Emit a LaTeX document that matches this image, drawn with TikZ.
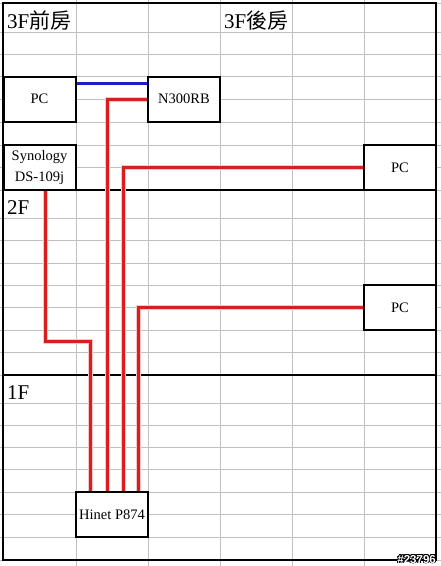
\documentclass[tikz,border=0pt]{standalone}
\usepackage{fontspec}
\setmainfont{Liberation Serif}
\newfontfamily\cjk{Noto Sans CJK TC}
\newfontfamily\markfont{Liberation Sans}
\usepackage[copies]{contour}
\contourlength{0.7pt}
\definecolor{wirered}{RGB}{218,30,30}
\definecolor{wireblue}{RGB}{30,30,200}
\definecolor{gridgray}{RGB}{192,192,192}

\begin{document}
\begin{tikzpicture}[x=1pt,y=-1pt,
    box/.style={draw,fill=white,line width=2pt,minimum width=72pt,minimum height=45pt,
      inner sep=1pt,align=center,font=\fontsize{14.5}{21}\selectfont},
    gridline/.style={draw=gridgray,line width=1pt},
    frame/.style={line width=2.6pt},
    redwire/.style={draw=wirered,line width=3pt,preaction={draw=wirered!25,line width=5pt}},
    bluewire/.style={draw=wireblue,line width=3pt},
    floor/.style={anchor=base west,inner sep=0pt,font=\fontsize{21}{24}\selectfont}]
  \useasboundingbox (0,0) rectangle (441,566);
  % sheet grid
  \foreach \x in {76,148,220,292,364}
    \draw[gridline] (\x,0) -- (\x,566);
  \foreach \y in {3,32,54,76,99,122,145,167,190,218,240.5,263,285,307.5,330,352.5,
                  375,403,425,447.5,469.5,492,514.5,537,560}
    \draw[gridline] (0,\y) -- (441,\y);
  \draw[frame] (3,3) rectangle (436,560);
  \draw[frame] (3,190) -- (436,190) (3,375) -- (436,375);

  % floors
  \node[floor] (front3) at (7,28) {3F\cjk 前房};
  \node[floor] (back3) at (224,28) {3F\cjk 後房};
  \node[floor] (floor2) at (7,214) {2F};
  \node[floor] (floor1) at (7,399) {1F};

  % devices
  \node[box] (pcfront) at (39.5,99) {PC};
  \node[box] (n300) at (184,99) {N300RB};
  \node[box] (nas) at (39.5,167.5) {Synology\\DS-109j};
  \node[box] (pcback) at (400,167.5) {PC};
  \node[box] (pc2f) at (400,307.5) {PC};
  \node[box] (hinet) at (112,514.5) {Hinet P874};

  % cables
  \draw[bluewire] ([yshift=16pt]pcfront.east) -- ([yshift=16pt]n300.west);
  \draw[redwire] (n300.west) -| ([xshift=-5pt]hinet.north);
  \draw[redwire] (pcback.west) -| ([xshift=11pt]hinet.north);
  \draw[redwire] ([xshift=5.5pt]nas.south) -- ++(0,150) -| ([xshift=-22pt]hinet.north);
  \draw[redwire] (pc2f.west) -| ([xshift=26pt]hinet.north);

  \node[anchor=base east,inner sep=0pt,font=\markfont\bfseries\fontsize{11.5}{12}\selectfont]
    (mark) at (436,563) {\contour{black}{\textcolor{white}{\#23796}}};
\end{tikzpicture}
\end{document}
